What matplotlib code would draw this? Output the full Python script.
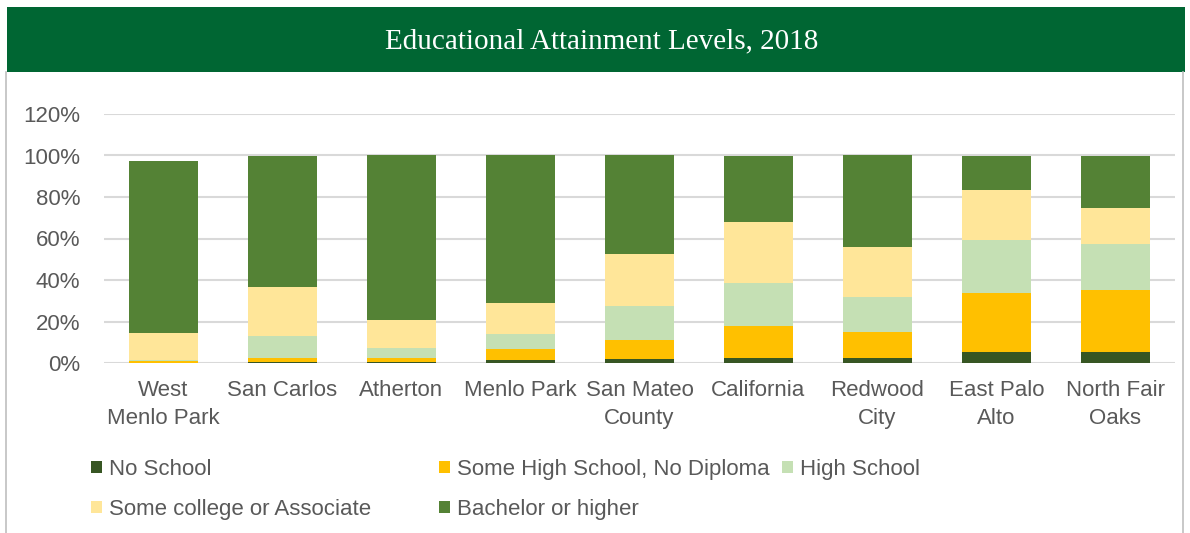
import matplotlib.pyplot as plt
from matplotlib.patches import Rectangle
from matplotlib.lines import Line2D
import numpy as np

# data (percent)
places = ["West\nMenlo Park", "San Carlos", "Atherton", "Menlo Park", "San Mateo\nCounty",
          "California", "Redwood\nCity", "East Palo\nAlto", "North Fair\nOaks"]
no_school = [0.0, 0.3, 0.3, 1.3, 1.9, 2.6, 2.6, 5.5, 5.5]
some_hs = [1.0, 2.3, 2.3, 5.5, 9.4, 15.4, 12.2, 28.0, 29.6]
high_school = [0.3, 10.3, 4.8, 7.4, 16.1, 20.5, 16.8, 25.8, 22.1]
some_college = [13.0, 23.7, 13.1, 14.9, 25.3, 29.3, 24.3, 24.0, 17.4]
bachelor = [83.1, 63.4, 79.5, 70.9, 47.3, 32.2, 44.1, 16.7, 25.4]

series = [("No School", no_school, "#375623"),
          ("Some High School, No Diploma", some_hs, "#FFC000"),
          ("High School", high_school, "#C5E0B4"),
          ("Some college or Associate", some_college, "#FFE699"),
          ("Bachelor or higher", bachelor, "#548235")]

plt.rcParams['font.family'] = ['Liberation Sans', 'DejaVu Sans']

fig = plt.figure(figsize=(11.9, 5.33), dpi=100)

# header banner and frame
fig.patches.append(Rectangle((7/1190, 1-72/533), 1178/1190, 65/533, transform=fig.transFigure,
                             facecolor="#006633", edgecolor="none", zorder=0))
fig.text(0.5055, 1-41/533, "Educational Attainment Levels, 2018", color="white",
         fontsize=21, family="Liberation Serif", ha="center", va="center")
fig.add_artist(Line2D([6/1190, 6/1190], [0, 1-72/533], transform=fig.transFigure,
                      color="#BFBFBF", lw=1.2))
fig.add_artist(Line2D([1183/1190, 1183/1190], [0, 1-72/533], transform=fig.transFigure,
                      color="#BFBFBF", lw=1.2))

ax = fig.add_axes([104/1190, 1-363/533, 1071/1190, 249/533])
x = np.arange(len(places))
bottom = np.zeros(len(places))
handles = []
for name, vals, col in series:
    vals = np.array(vals)
    b = ax.bar(x, vals, 0.58, bottom=bottom, color=col, label=name, zorder=3)
    handles.append(b)
    bottom += vals

ax.set_xlim(-0.5, len(places) - 0.5)
ax.set_ylim(0, 120)
ax.set_yticks(range(0, 121, 20))
ax.set_yticklabels([f"{v}%" for v in range(0, 121, 20)])
ax.set_xticks(x)
ax.set_xticklabels(places, linespacing=1.45)
ax.yaxis.grid(True, color="#D9D9D9", lw=1.5, zorder=0)
ax.tick_params(length=0, labelsize=16, labelcolor="#595959")
ax.tick_params(axis="x", pad=12)
ax.tick_params(axis="y", pad=17)
for s in ax.spines.values():
    s.set_visible(False)

# legend laid out row by row like the original, one legend per column
cols = [([0, 3], 82), ([1, 4], 430), ([2], 773)]
for idx, xpix in cols:
    leg = fig.legend([handles[i] for i in idx], [series[i][0] for i in idx],
                     loc="upper left", bbox_to_anchor=(xpix/1190, 1-450/533),
                     frameon=False, fontsize=16, labelcolor="#595959",
                     handlelength=0.5, handleheight=0.5, handletextpad=0.3,
                     labelspacing=0.85, borderaxespad=0)

fig.savefig("out.png", dpi=100, facecolor="white")
